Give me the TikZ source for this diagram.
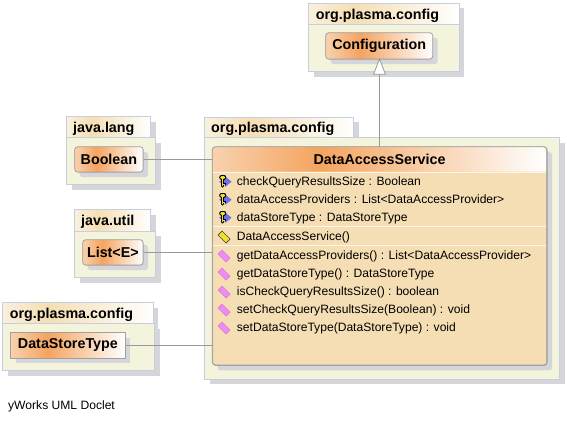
\documentclass[tikz,border=0pt]{standalone}
\usepackage{fontspec}
\setmainfont{Liberation Sans}
\usetikzlibrary{positioning,shadows}

\definecolor{pkgline}{HTML}{C6CFE2}
\definecolor{pkgfill}{HTML}{F4F3DC}
\definecolor{shadowgray}{HTML}{D6D6DA}
\definecolor{classfill}{HTML}{F5DEB3}
\definecolor{classline}{HTML}{A0A0A0}
\definecolor{classpeak}{HTML}{F4A460}
\definecolor{classleft}{HTML}{F8D2AE}
\definecolor{edgegray}{HTML}{999999}
\definecolor{fieldblue}{HTML}{6E6EF0}
\definecolor{keygold}{HTML}{F0E030}
\definecolor{methodpink}{HTML}{F08CF0}

% the visible part of a horizontal shading runs from 25bp to 75bp
\pgfdeclarehorizontalshading{tabfade}{100bp}{color(0bp)=(white); color(25bp)=(classfill!45!white); color(40bp)=(classfill); color(75bp)=(white); color(100bp)=(white)}
\pgfdeclarehorizontalshading{classfade}{100bp}{color(0bp)=(white); color(25bp)=(classleft); color(41bp)=(classpeak); color(75bp)=(white); color(100bp)=(white)}

\tikzset{
    flatshadow/.style={drop shadow={shadow xshift=5pt,shadow yshift=-5pt,fill=shadowgray,opacity=1}},
    pkgtab/.style={draw=pkgline,line width=0.8pt,shading=tabfade,flatshadow,anchor=north west,inner sep=0pt},
    pkgname/.style={anchor=base west,inner sep=0pt,font=\fontsize{14.3}{16}\selectfont\bfseries},
    pkgbody/.style={draw=pkgline,line width=0.8pt,fill=pkgfill,flatshadow,anchor=north west,inner sep=0pt},
    classbox/.style={draw=classline,line width=0.8pt,shading=classfade,flatshadow,anchor=north west,
        rounded corners=3pt,font=\fontsize{14.3}{16}\selectfont\bfseries,inner sep=0pt},
    member/.style={anchor=base west,inner sep=0pt,font=\fontsize{12.1}{14}\selectfont},
    uses/.style={draw=edgegray,line width=0.8pt},
    extends/.style={draw=edgegray,line width=0.8pt}
}

% key with a blue arrow behind it
\newcommand{\fieldicon}[1]{
    \fill[fieldblue] (#1) ++(-5,0) -- ++(5,-3) -- ++(1.5,-2) -- ++(6,5) -- ++(-6,5) -- ++(-1.5,-2) -- cycle;
    \draw[black,line width=2.6pt,line cap=round] (#1) ++(-1.5,-4) -- ++(0,8.5);
    \draw[black,line width=4.6pt,line cap=round] (#1) ++(-2.5,-4.5) -- ++(2.5,0);
    \draw[black,line width=2.2pt] (#1) ++(-1.5,2.5) -- ++(3,0);
    \draw[keygold,line width=1.2pt,line cap=round] (#1) ++(-1.5,-4) -- ++(0,8);
    \draw[keygold,line width=2.6pt,line cap=round] (#1) ++(-2.5,-4.5) -- ++(2.5,0);
    \draw[keygold,line width=1pt] (#1) ++(-1.5,2.5) -- ++(2.5,0);
}
% slanted lozenge, #2 is the fill and #3 the outline
\newcommand{\lozengeicon}[3]{
    \filldraw[fill=#2,draw=#3,line width=0.7pt] (#1) ++(-6,-1.7) -- ++(4,-4) -- ++(8,8) -- ++(-4,4) -- cycle;
}

\begin{document}
\begin{tikzpicture}[x=1pt,y=-1pt]
    \useasboundingbox (0,0) rectangle (567,421);

    % Upper package
    \node[pkgtab,minimum width=150.4pt,minimum height=21.6pt] (tabTop) at (308.3,2.7) {};
    \node[pkgname] (tabTopText) at (315.7,19) {org.plasma.config};
    \node[pkgbody,minimum width=150.4pt,minimum height=47pt] (pkgTop) at (308.3,24.3) {};
    \node[classbox,minimum width=107pt,minimum height=26.4pt] (configuration) at (325.3,32.3) {Configuration};

    % Left packages
    \node[pkgtab,minimum width=84pt,minimum height=21pt] (tabLang) at (66.3,116.3) {};
    \node[pkgname] (tabLangText) at (73,132) {java.lang};
    \node[pkgbody,minimum width=89pt,minimum height=47pt] (pkgLang) at (66.3,137.3) {};
    \node[classbox,minimum width=68.4pt,minimum height=25.4pt] (boolean) at (74.3,146.3) {Boolean};

    \node[pkgtab,minimum width=76pt,minimum height=21.4pt] (tabUtil) at (74.3,209.3) {};
    \node[pkgname] (tabUtilText) at (81,225) {java.util};
    \node[pkgbody,minimum width=81pt,minimum height=46.6pt] (pkgUtil) at (74.3,230.7) {};
    \node[classbox,minimum width=60.4pt,minimum height=25.4pt] (list) at (82.3,239.3) {List<E>};

    \node[pkgtab,minimum width=150.4pt,minimum height=21pt] (tabStore) at (2.3,302.3) {};
    \node[pkgname] (tabStoreText) at (9.7,318) {org.plasma.config};
    \node[pkgbody,minimum width=152pt,minimum height=47pt] (pkgStore) at (2.3,323.3) {};
    \node[classbox,rounded corners=0pt,minimum width=114.4pt,minimum height=25.4pt] (store) at (10.3,332.3) {DataStoreType};

    % Main package
    \node[pkgtab,minimum width=149pt,minimum height=20.6pt] (tabMain) at (204.3,116.7) {};
    \node[pkgname] (tabMainText) at (211,132.3) {org.plasma.config};
    \node[pkgbody,minimum width=355pt,minimum height=241.4pt] (pkgMain) at (204.3,137.3) {};

    % Class with its compartments
    \node[draw=classline,line width=0.8pt,fill=classfill,flatshadow,anchor=north west,rounded corners=3pt,
        inner sep=0pt,minimum width=334.4pt,minimum height=218.3pt] (service) at (212.3,146.7) {};
    \shade[shading=classfade] (212.7,171.7) [rounded corners=3pt] -- (212.7,147.1) -- (546.3,147.1) [sharp corners] -- (546.3,171.7) -- cycle;
    \draw[classline,line width=0.8pt,rounded corners=3pt] (212.3,365) rectangle (546.7,146.7);
    \node[font=\fontsize{14.3}{16}\selectfont\bfseries,inner sep=0pt] (serviceName) at (379.5,159.4) {DataAccessService};
    \draw[white!70!classfill,line width=0.8pt] (212.7,171.9) -- (546.3,171.9);
    \draw[white!70!classfill,line width=0.8pt] (212.7,226.7) -- (546.3,226.7);
    \draw[white!70!classfill,line width=0.8pt] (212.7,245.7) -- (546.3,245.7);

    % Fields
    \foreach \y/\txt in {181.7/checkQueryResultsSize : Boolean,
        199.7/dataAccessProviders : List<DataAccessProvider>,
        217.7/dataStoreType : DataStoreType} {
        \fieldicon{224,\y}
        \node[member] at (236.7,\y+4.2) {\txt};
    }
    % Constructor
    \lozengeicon{224,236.7}{keygold}{black!70!classfill}
    \node[member] at (236.7,240.9) {DataAccessService()};
    % Methods
    \foreach \y/\txt in {255.7/getDataAccessProviders() : List<DataAccessProvider>,
        273.7/getDataStoreType() : DataStoreType,
        291.7/isCheckQueryResultsSize() : boolean,
        309.7/setCheckQueryResultsSize(Boolean) : void,
        327.7/setDataStoreType(DataStoreType) : void} {
        \lozengeicon{224,\y}{methodpink}{methodpink!90!black}
        \node[member] at (236.7,\y+4.2) {\txt};
    }

    % Connectors
    \coordinate (serviceTop) at (379.5,146.7);
    \coordinate (configBottom) at (379.5,59);
    \coordinate (tipBase) at (379.5,74.3);
    \draw[extends] (serviceTop) -- (tipBase);
    \filldraw[extends,fill=white] (configBottom) -- ++(6,15.3) -- ++(-12,0) -- cycle;
    \draw[uses] (boolean.east) -- (boolean.east -| service.west);
    \draw[uses] (list.east) -- (list.east -| service.west);
    \draw[uses] (store.east) -- (store.east -| service.west);

    \node[anchor=base west,inner sep=0pt,font=\fontsize{12.1}{14}\selectfont] (doclet) at (8,409.5) {yWorks UML Doclet};
\end{tikzpicture}
\end{document}
